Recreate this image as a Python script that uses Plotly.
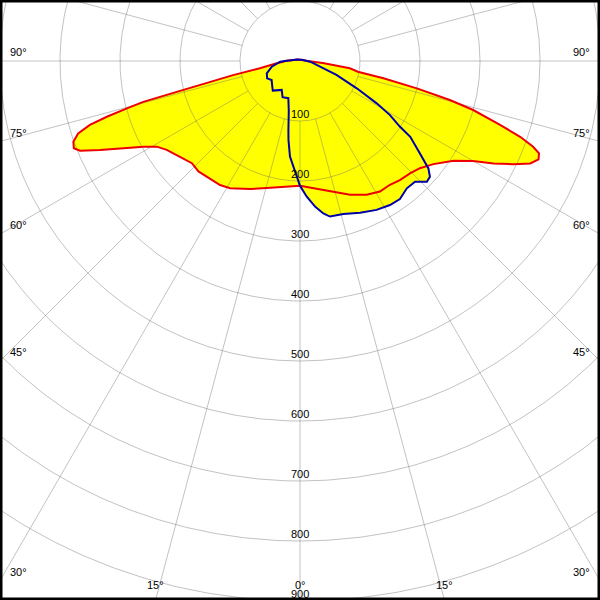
import numpy as np
import plotly.graph_objects as go

# ---- data: luminous intensity (cd) vs gamma angle (deg, 0 = straight down, + = right) ----
red_gamma = [-180, -120, -90, -87.6, -84.4, -79.7, -78.1, -76.5, -75.7, -75.4, -74.7, -73.9,
             -73.1, -71.9, -70.4, -68.9, -67.8, -66.0, -63.3, -61.3, -59.1, -56.3, -51.4,
             -46.6, -42.6, -38.9, -32.8, -28.8, -21.3, -14.7, -7.5, 0, 14.3, 20.5, 26.5,
             31.5, 36.0, 40.0, 44.4, 48.2, 52.3, 57.0, 60.0, 62.1, 64.2, 66.0, 67.6, 68.9,
             69.8, 71.0, 72.3, 74.2, 75.4, 76.8, 78.3, 79.5, 81.7, 83.6, 85.0, 90, 120, 180]
red_cd = [2, 5, 25, 28, 39, 68, 114, 171, 229, 270, 299, 335,
          366, 389, 401, 404, 396, 365, 323, 298, 278, 267, 256,
          248, 250, 248, 246, 242, 229, 219, 212, 208, 225, 238, 249,
          255, 255, 259, 262, 268, 281, 305, 333, 365, 395, 420, 430, 427,
          414, 388, 350, 300, 258, 200, 142, 98, 84, 45, 38, 13, 3, 2]

blue_gamma = [-180, -120, -90, -88, -78.6, -69.7, -62.1, -56.1, -47.1, -42.6, -32.3, -25.7,
              -17.4, -12.7, -9.5, -8.3, -6.0, -2.6, 0, 2.8, 5.9, 8.7, 10.9, 15.8, 21.6,
              27.2, 32.0, 35.9, 40.0, 43.6, 46.4, 48.3, 50.1, 52.4, 55.5, 56.7, 59.0, 61.1,
              64.3, 69.1, 74.1, 86, 120, 180]
blue_cd = [2, 5, 25, 33, 48, 59, 62, 57, 63, 67, 57, 67,
           65, 85, 117, 133, 160, 185, 208, 226, 244, 257, 264, 265, 272,
           279, 283, 284, 277, 278, 292, 290, 279, 252, 223, 199, 175, 146,
           105, 65, 35, 17, 4, 2]

ring_values = [100, 200, 300, 400, 500, 600, 700, 800, 900]
ring_labels = ["100", "200", "300", "400", "500", "600", "700", "800", "900"]
spoke_angles = list(range(0, 360, 15))
side_angles = [90, 75, 60, 45, 30]
side_labels = ["90°", "75°", "60°", "45°", "30°"]
bottom_angles = [-15, 0, 15]
bottom_labels = ["15°", "0°", "15°"]

# ---- view (cd units): 600 px window, 0.6 px per cd ----
X_HALF = 500.0
Y_TOP = 101.67
Y_BOT = -898.33
PX_PER_CD = 0.6


def to_xy(gamma, cd):
    g = np.radians(np.asarray(gamma, dtype=float))
    r = np.asarray(cd, dtype=float)
    return r * np.sin(g), -r * np.cos(g)


rx, ry = to_xy(red_gamma, red_cd)
bx, by = to_xy(blue_gamma, blue_cd)

fig = go.Figure()

YELLOW = "#ffff00"
fig.add_trace(go.Scatter(x=rx, y=ry, mode="lines", fill="toself", fillcolor=YELLOW,
                         line=dict(width=0, color=YELLOW), hoverinfo="skip", showlegend=False))
fig.add_trace(go.Scatter(x=bx, y=by, mode="lines", fill="toself", fillcolor=YELLOW,
                         line=dict(width=0, color=YELLOW), hoverinfo="skip", showlegend=False))

# grid rings
t = np.linspace(0, 2 * np.pi, 721)
gx, gy = [], []
for rv in ring_values:
    gx += list(rv * np.sin(t)) + [None]
    gy += list(-rv * np.cos(t)) + [None]
# spokes from ring 100 outwards
for a in spoke_angles:
    ar = np.radians(a)
    gx += [100 * np.sin(ar), 1300 * np.sin(ar), None]
    gy += [-100 * np.cos(ar), -1300 * np.cos(ar), None]
fig.add_trace(go.Scatter(x=gx, y=gy, mode="lines", line=dict(color="rgba(110,110,110,0.42)", width=1),
                         hoverinfo="skip", showlegend=False))

fig.add_trace(go.Scatter(x=rx, y=ry, mode="lines", line=dict(color="#ee0000", width=2),
                         hoverinfo="skip", showlegend=False))
fig.add_trace(go.Scatter(x=bx, y=by, mode="lines", line=dict(color="#0000a8", width=2),
                         hoverinfo="skip", showlegend=False))

FONT = dict(family="Liberation Sans, Arial, sans-serif", size=11, color="#000000")
ann = []
for rv, lab in zip(ring_values, ring_labels):
    yv = -rv
    ys = 0
    if yv < Y_BOT:
        ys = (yv - Y_BOT) * PX_PER_CD
        yv = Y_BOT + 0.01
    ann.append(dict(x=0, y=yv, yshift=ys, xref="x", yref="y", text=lab, showarrow=False,
                    xanchor="center", yanchor="bottom", font=FONT, borderpad=0))
for a, lab in zip(side_angles, side_labels):
    yh = -X_HALF / np.tan(np.radians(a)) if a != 90 else 0.0
    ann.append(dict(x=-X_HALF + 15, y=yh + 3, xref="x", yref="y", text=lab, showarrow=False,
                    xanchor="left", yanchor="bottom", font=FONT, borderpad=0))
    ann.append(dict(x=X_HALF - 15, y=yh + 3, xref="x", yref="y", text=lab, showarrow=False,
                    xanchor="right", yanchor="bottom", font=FONT, borderpad=0))
for a, lab in zip(bottom_angles, bottom_labels):
    xh = -Y_BOT * np.tan(np.radians(a))
    ann.append(dict(x=xh, y=Y_BOT + 14, xref="x", yref="y", text=lab, showarrow=False,
                    xanchor="center", yanchor="bottom", font=FONT, borderpad=0))

fig.update_layout(
    template="none",
    width=600, height=600,
    margin=dict(l=0, r=0, t=0, b=0),
    paper_bgcolor="white", plot_bgcolor="white",
    xaxis=dict(range=[-X_HALF, X_HALF], visible=False, fixedrange=True),
    yaxis=dict(range=[Y_BOT, Y_TOP], visible=False, fixedrange=True),
    annotations=ann,
    shapes=[dict(type="rect", xref="paper", yref="paper", x0=0, x1=1, y0=0, y1=1,
                 line=dict(color="black", width=5), layer="above")],
)

fig.write_html("out.html", config={"displayModeBar": False},
               post_script="document.body.style.margin='0';")
